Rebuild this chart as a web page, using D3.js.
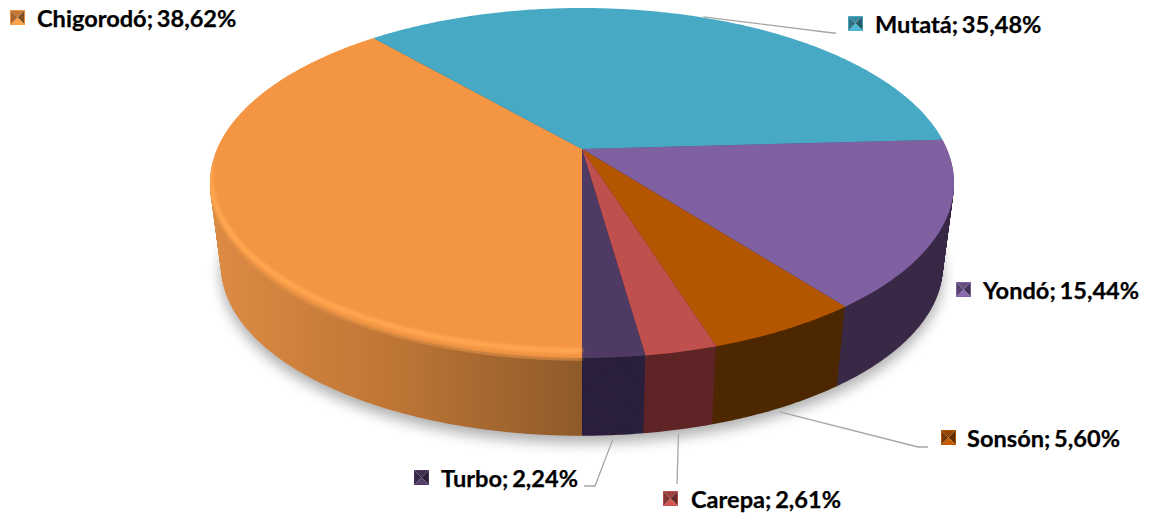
<!DOCTYPE html>
<html>
<head>
<meta charset="utf-8">
<script src="https://cdn.jsdelivr.net/npm/d3@7/dist/d3.min.js"></script>
<style>
  html, body { margin: 0; padding: 0; background: #fff; }
  svg { display: block; }
  text { font-family: Lato, "Open Sans", sans-serif; font-weight: 700; fill: #000; }
</style>
</head>
<body>
<svg id="Vis" width="1151" height="518"></svg>
<script>
/*
* DATA
*/
const categories = ["Chigorodó", "Mutatá", "Yondó", "Sonsón", "Carepa", "Turbo"];
const values = [38.62, 35.48, 15.44, 5.60, 2.61, 2.24];
const valueLabels = ["38,62%", "35,48%", "15,44%", "5,60%", "2,61%", "2,24%"];

const topColors = ["#f49543", "#47a9c4", "#7f60a0", "#b45500", "#c0504d", "#4f3a63"];
const rimColors = ["#ffa750", "#47a9c4", "#7f60a0", "#bd5c04", "#c75552", "#523d68"];
const edgeColors = ["#e08e45", "#3a8ca3", "#5c4675", "#803e00", "#8f3b39", "#3c2d50"];
const sideColors = ["url(#orangeSide)", "#2f6f82", "#3a2a47", "#4d2800", "#5f2526", "#2a1f3d"];

/* label layout: key + text anchor, leader elbow points */
const labelX = [37, 875, 983, 967, 691, 441];
const labelY = [27, 33, 299, 447, 508, 487];
const keyX = [10, 848, 956, 941, 663, 414];
const leaderPoints = [
  [],
  [[833, 33], [836, 33]],
  [],
  [[918, 447], [928, 447]],
  [[677, 484]],
  [[595, 486], [584, 486]]
];

/*
* SETUP
*/
const svg = d3.select("svg#Vis");
const defs = svg.append("defs");

/* perspective of the pie disc */
const cx = 582, cy = 149;
const radiusX = 365, radiusY = 168.4, tilt = 0.1943;
const sideDrop = 84, sideScale = 0.97;
const keySize = 15;

const pie = d3.pie()
  .sort(null)
  .value(d => d)
  .startAngle(Math.PI)
  .endAngle(3 * Math.PI);

const arcs = pie(values);

/* project an angle (clockwise from the far point) on to the screen */
function project(angle, scale, drop) {
  const u = Math.sin(angle);
  const v = Math.cos(angle);
  const w = 1 + tilt * v;
  return [
    cx + scale * radiusX * u / w,
    cy + drop - scale * radiusY * v / w
  ];
}

function arcPoints(start, end, scale, drop) {
  const steps = Math.max(2, Math.ceil((end - start) / 0.01));
  return d3.range(steps + 1).map(i => project(start + (end - start) * i / steps, scale, drop));
}

function wedge(d, scale, drop) {
  return line([[cx, cy + drop]].concat(arcPoints(d.startAngle, d.endAngle, scale, drop))) + "Z";
}

/* only the part of a slice that faces the viewer */
function frontArc(d, scale, drop) {
  const a = Math.max(d.startAngle, Math.PI / 2);
  const b = Math.min(d.endAngle, 3 * Math.PI / 2);
  return b > a ? line(arcPoints(a, b, scale, drop)) : null;
}

const line = d3.line();

/* Gradient + blur definitions */
const orange = defs.append("linearGradient")
  .attr("id", "orangeSide")
  .attr("gradientUnits", "userSpaceOnUse")
  .attr("x1", 215).attr("x2", 582).attr("y1", 0).attr("y2", 0);
orange.append("stop").attr("offset", 0).attr("stop-color", "#dc8b44");
orange.append("stop").attr("offset", 0.5).attr("stop-color", "#bd7535");
orange.append("stop").attr("offset", 1).attr("stop-color", "#8e5a2a");

defs.append("filter").attr("id", "shadowBlur")
  .attr("x", "-10%").attr("y", "-10%").attr("width", "120%").attr("height", "120%")
  .append("feGaussianBlur").attr("stdDeviation", 7);
defs.append("filter").attr("id", "softBlur")
  .attr("filterUnits", "userSpaceOnUse")
  .attr("x", 0).attr("y", 0).attr("width", 1151).attr("height", 518)
  .append("feGaussianBlur").attr("stdDeviation", 1.6);

/*
* DRAWING
*/
const g = {
  shadow: svg.append("g").attr("id", "shadow"),
  sides: svg.append("g").attr("id", "sides"),
  top: svg.append("g").attr("id", "top"),
  leaders: svg.append("g").attr("id", "leaders"),
  legend: svg.append("g").attr("id", "legend")
};

/* Soft shadow under the disc */
g.shadow.append("path")
  .attr("d", line(arcPoints(0, 2 * Math.PI, sideScale, sideDrop + 7)) + "Z")
  .attr("fill", "#000")
  .attr("opacity", 0.32)
  .attr("filter", "url(#shadowBlur)");

/* Outer wall: discs stacked from the bottom up, no seams between layers */
const layers = d3.range(sideDrop).reverse();

layers.forEach(k => {
  const t = (k + 1) / sideDrop;
  g.sides.append("g").selectAll("path")
    .data(arcs)
    .join("path")
    .attr("d", d => wedge(d, 1 + (sideScale - 1) * t, sideDrop * t))
    .attr("fill", (d, i) => sideColors[i]);
});

/* Slices on the top face */
g.top.selectAll("path.slice")
  .data(arcs)
  .join("path")
  .attr("class", "slice")
  .attr("d", d => wedge(d, 1, 0))
  .attr("fill", (d, i) => topColors[i]);

/* Bevel along the front of the top face: soft turn from the face into the wall */
defs.append("clipPath").attr("id", "topClip")
  .append("path")
  .attr("d", line(arcPoints(0, 2 * Math.PI, 1, 3)) + "Z");

const bevel = g.top.append("g").attr("clip-path", "url(#topClip)");

bevel.selectAll("path.edge")
  .data(arcs)
  .join("path")
  .attr("class", "edge")
  .attr("d", d => frontArc(d, 1, 1))
  .attr("fill", "none")
  .attr("stroke", (d, i) => edgeColors[i])
  .attr("stroke-width", 3)
  .attr("filter", "url(#softBlur)");

bevel.selectAll("path.rim")
  .data(arcs)
  .join("path")
  .attr("class", "rim")
  .attr("d", d => frontArc(d, 0.998, -7))
  .attr("fill", "none")
  .attr("stroke", (d, i) => rimColors[i])
  .attr("stroke-width", 5)
  .attr("filter", "url(#softBlur)");

/* Leader lines, from the middle of the slice's wall */
arcs.forEach((d, i) => {
  if (!leaderPoints[i].length) return;
  const mid = (d.startAngle + d.endAngle) / 2;
  const far = Math.cos(mid) > 0;
  const start = far ? project(mid, 1.005, 0) : project(mid, sideScale, sideDrop + 4);
  g.leaders.append("path")
    .attr("d", line([start].concat(leaderPoints[i])))
    .attr("fill", "none")
    .attr("stroke", "#a6a6a6")
    .attr("stroke-width", 1.3);
});

/* Data labels with their bevelled keys */
function drawKey(group, color) {
  const s = keySize;
  const m = s / 2;
  const base = d3.color(color);
  const faces = [
    { pts: [[0, 0], [s, 0], [m, m]], fill: base.darker(0.6) },
    { pts: [[s, 0], [s, s], [m, m]], fill: base.darker(1.8) },
    { pts: [[s, s], [0, s], [m, m]], fill: base.brighter(0.25) },
    { pts: [[0, s], [0, 0], [m, m]], fill: base.darker(1.1) }
  ];
  group.selectAll("path")
    .data(faces)
    .join("path")
    .attr("d", f => line(f.pts) + "Z")
    .attr("fill", f => f.fill);
  group.append("rect")
    .attr("x", 0.5).attr("y", 0.5)
    .attr("width", s - 1).attr("height", s - 1)
    .attr("fill", "none")
    .attr("stroke", base.brighter(0.1))
    .attr("stroke-opacity", 0.8);
}

const labels = g.legend.selectAll("g.label")
  .data(categories)
  .join("g")
  .attr("class", "label");

labels.append("g")
  .attr("transform", (d, i) => translate(keyX[i], labelY[i] - 17))
  .each(function(d, i) { drawKey(d3.select(this), topColors[i]); });

labels.append("text")
  .attr("x", (d, i) => labelX[i])
  .attr("y", (d, i) => labelY[i])
  .attr("font-size", 23.6)
  .attr("word-spacing", -2)
  .attr("stroke", "#000")
  .attr("stroke-width", 0.25)
  .text((d, i) => d + "; " + valueLabels[i]);

/*
* HELPER FUNCTIONS
*/
function translate(x, y) {
  return 'translate(' + String(x) + ',' + String(y) + ')';
}
</script>
</body>
</html>
